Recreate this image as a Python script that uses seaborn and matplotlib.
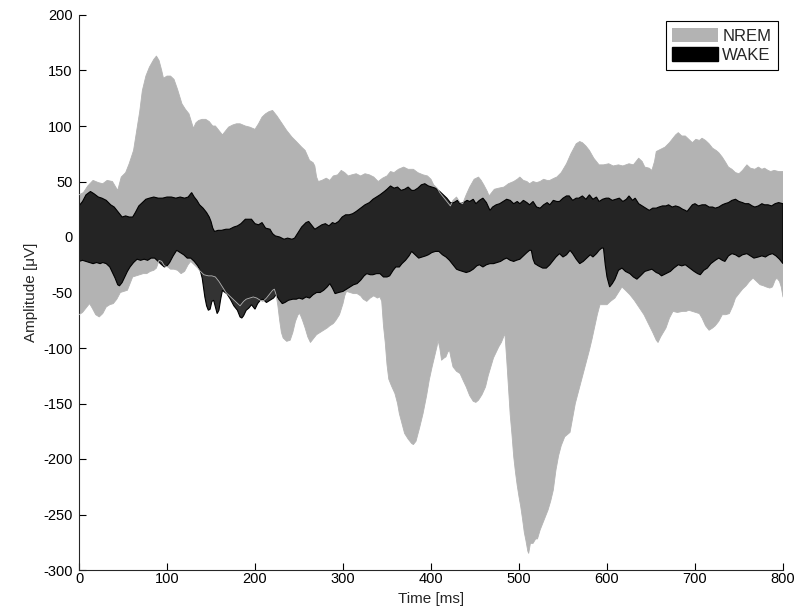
import numpy as np
import matplotlib
matplotlib.use("Agg")
import matplotlib.pyplot as plt
from matplotlib.patches import Patch
import seaborn as sns

# ---- data: (time ms, amplitude uV) ----
nrem_upper = [(0,38),(5,40),(10,46),(16,51),(22,49),(27,48),(32,51),(38,50),(44,42),(48,54),(53,58),(57,66),
(62,78),(65,93),(69,113),(72,132),(76,145),(80,153),(85,160),(88,163),(91,159),(94,150),(96,143),(100,145),
(104,145),(108,142),(112,133),(117,120),(121,115),(125,111),(130,98),(133,103),(136,105),(140,106),(144,106),
(148,104),(152,100),(155,100),(160,95),(163,92),(167,96),(170,99),(175,101),(179,102),(183,102),(186,101),
(189,100),(194,99),(200,97),(204,102),(208,108),(212,111),(216,113),(220,114),(225,109),(231,102),(236,96),
(242,90),(247,86),(253,81),(257,78),(262,69),(266,67),(268,64),(270,54),(272,50),(276,51),(281,53),(285,51),
(289,55),(294,56),(298,60),(302,58),(306,55),(310,56),(315,57),(320,55),(325,57),(330,56),(335,54),(340,50),
(345,53),(350,55),(354,59),(358,58),(363,61),(369,63),(374,61),(380,61),(385,58),(391,56),(396,55),(400,52),
(403,47),(407,44),(410,40),(414,36),(418,32),(422,28),(425,33),(429,36),(433,31),(436,30),(440,38),(444,45),
(449,52),(454,54),(457,51),(460,47),(464,41),(466,37),(469,40),(472,43),(477,44),(483,45),(488,48),(494,50),
(498,52),(501,54),(505,51),(509,50),(512,48),(516,50),(520,49),(524,50),(528,52),(532,51),(535,51),(540,53),
(543,54),(548,58),(554,66),(559,75),(565,84),(569,86),(572,85),(576,82),(580,78),(585,71),(591,65),(596,65),
(602,66),(607,64),(613,65),(618,64),(625,66),(630,65),(636,71),(640,68),(643,63),(648,62),(651,60),(654,68),
(656,77),(661,79),(666,81),(671,85),(675,89),(678,92),(681,94),(685,91),(689,91),(693,88),(697,85),(701,88),
(705,87),(708,89),(712,87),(716,84),(720,80),(724,78),(727,76),(731,72),(735,67),(738,63),(742,61),(746,58),
(750,57),(754,60),(759,65),(763,62),(768,61),(772,63),(776,61),(779,62),(783,60),(786,59),(790,60),(795,59),
(800,59)]

nrem_lower = [(0,-70),(4,-68),(8,-64),(12,-60),(15,-64),(19,-70),(23,-72),(27,-69),(31,-63),(35,-61),(39,-60),
(43,-56),(47,-50),(51,-49),(55,-48),(58,-42),(61,-36),(65,-35),(69,-34),(73,-33),(77,-33),(81,-31),(85,-30),
(88,-28),(91,-21),(94,-22),(97,-26),(101,-27),(104,-29),(108,-29),(112,-30),(116,-33),(120,-31),(124,-25),
(127,-22),(131,-25),(135,-28),(138,-31),(142,-34),(147,-35),(151,-35),(155,-36),(159,-40),(163,-45),(167,-50),
(171,-53),(175,-56),(179,-59),(183,-62),(187,-58),(190,-56),(194,-55),(198,-54),(202,-55),(206,-57),(209,-58),
(213,-55),(217,-51),(220,-48),(222,-47),(224,-52),(226,-62),(228,-75),(230,-86),(232,-91),(236,-94),(240,-93),
(243,-86),(246,-76),(249,-70),(251,-69),(254,-75),(257,-82),(260,-90),(263,-95),(266,-92),(270,-88),(274,-86),
(278,-84),(282,-82),(285,-80),(289,-78),(292,-75),(296,-70),(300,-60),(302,-53),(304,-49),(308,-50),(312,-51),
(316,-51),(320,-53),(323,-56),(327,-58),(331,-55),(335,-53),(339,-55),(342,-54),(344,-58),(346,-80),(348,-95),
(350,-115),(352,-128),(355,-134),(359,-141),(362,-150),(364,-159),(367,-168),(370,-177),(374,-182),(378,-186),
(380,-187),(383,-184),(387,-172),(391,-159),(395,-143),(398,-129),(401,-118),(404,-108),(407,-98),(408,-93),
(410,-100),(412,-111),(415,-109),(417,-108),(419,-104),(421,-102),(423,-110),(425,-117),(429,-121),(433,-123),
(437,-130),(440,-135),(444,-143),(448,-148),(451,-149),(454,-147),(458,-142),(462,-135),(465,-125),(468,-117),
(471,-109),(474,-104),(477,-99),(480,-95),(484,-87),(486,-110),(488,-135),(490,-160),(492,-178),(494,-198),
(496,-212),(498,-224),(500,-234),(502,-243),(504,-254),(506,-266),(508,-274),(510,-283),(511,-285),(513,-276),
(516,-276),(519,-272),(521,-272),(524,-264),(527,-258),(530,-252),(533,-246),(536,-238),(539,-228),(542,-210),
(545,-197),(548,-188),(552,-180),(555,-178),(558,-176),(561,-163),(564,-150),(567,-141),(569,-135),(572,-126),
(575,-117),(578,-108),(580,-102),(583,-92),(586,-81),(589,-70),(592,-61),(596,-61),(600,-61),(604,-58),(609,-55),
(613,-50),(617,-45),(621,-48),(626,-52),(631,-57),(637,-64),(642,-70),(647,-78),(652,-86),(656,-93),(658,-95),
(661,-90),(664,-86),(667,-82),(671,-73),(675,-67),(680,-68),(686,-67),(690,-67),(693,-66),(697,-67),(701,-68),
(705,-69),(708,-73),(712,-80),(716,-84),(720,-82),(723,-80),(727,-76),(731,-70),(735,-70),(739,-69),(743,-62),
(746,-55),(750,-51),(754,-47),(758,-44),(762,-40),(766,-37),(770,-40),(774,-43),(778,-44),(781,-45),(785,-46),
(788,-45),(791,-39),(793,-37),(796,-40),(798,-45),(800,-54)]

wake_upper = [(0,28),(4,32),(8,38),(13,41),(17,39),(22,36),(26,35),(31,33),(36,29),(40,27),(43,24),(46,21),
(49,18),(53,19),(57,18),(61,18),(64,22),(68,28),(72,31),(76,34),(80,35),(85,36),(90,35),(95,35),(100,36),
(105,36),(110,35),(115,36),(120,35),(124,36),(128,40),(131,36),(134,33),(137,29),(141,26),(145,22),(148,18),
(150,14),(152,8),(154,5),(158,6),(162,6),(167,7),(171,7),(176,9),(180,10),(184,12),(189,16),(193,16),(196,16),
(200,12),(204,11),(208,13),(212,8),(217,7),(220,3),(223,1),(228,0),(233,-2),(237,-1),(242,-2),(245,-1),(249,4),
(253,9),(258,13),(261,14),(265,10),(268,7),(272,9),(276,11),(280,12),(284,10),(288,13),(291,12),(295,14),
(299,18),(303,20),(307,20),(311,21),(315,23),(320,26),(325,29),(330,31),(334,34),(338,36),(342,38),(347,41),
(350,43),(354,46),(358,44),(362,45),(366,42),(370,43),(374,45),(378,42),(381,42),(385,44),(389,47),(393,48),
(397,46),(401,45),(405,44),(410,41),(414,38),(418,35),(422,31),(426,31),(430,33),(433,30),(437,31),(441,33),
(444,32),(448,34),(451,30),(455,33),(459,35),(463,31),(467,24),(470,27),(474,29),(478,30),(482,32),(486,34),
(490,33),(494,30),(498,32),(501,30),(505,33),(509,31),(512,29),(516,32),(520,27),(524,26),(528,29),(532,31),
(535,29),(539,33),(543,32),(546,32),(550,35),(554,37),(557,37),(561,33),(565,35),(568,35),(572,37),(576,34),
(580,38),(584,34),(588,36),(591,32),(595,34),(599,35),(602,35),(606,33),(610,34),(614,35),(618,32),(622,34),
(625,37),(629,33),(632,35),(636,30),(640,28),(644,26),(648,24),(652,26),(656,26),(659,27),(663,28),(667,28),
(670,29),(674,27),(678,28),(682,27),(686,25),(689,24),(691,23),(694,26),(697,29),(700,30),(704,28),(708,29),
(712,29),(716,27),(720,27),(723,26),(727,27),(731,29),(734,30),(738,31),(742,33),(746,34),(750,32),(754,31),
(757,30),(761,30),(765,28),(768,27),(772,28),(776,30),(779,29),(783,29),(787,28),(791,30),(795,31),(800,30)]

wake_lower = [(0,-22),(4,-21),(8,-22),(12,-23),(16,-24),(20,-23),(24,-24),(27,-23),(31,-24),(35,-27),(38,-32),
(41,-37),(44,-43),(46,-44),(49,-41),(52,-36),(55,-31),(58,-27),(62,-23),(66,-20),(70,-21),(74,-20),(78,-21),
(82,-19),(86,-19),(90,-22),(94,-25),(97,-27),(100,-26),(103,-23),(107,-17),(111,-12),(115,-14),(119,-16),
(123,-19),(127,-19),(131,-22),(135,-26),(138,-31),(140,-37),(143,-54),(145,-62),(147,-66),(149,-65),(151,-58),
(153,-57),(155,-63),(157,-69),(159,-66),(161,-56),(163,-48),(166,-50),(168,-51),(172,-56),(176,-62),(180,-66),
(183,-72),(185,-73),(187,-71),(190,-66),(193,-64),(196,-61),(198,-63),(200,-65),(203,-60),(206,-57),(209,-56),
(213,-59),(217,-57),(221,-55),(224,-52),(227,-56),(231,-60),(234,-59),(238,-57),(243,-56),(247,-56),(250,-55),
(254,-56),(258,-54),(262,-55),(266,-52),(270,-50),(274,-50),(278,-48),(282,-45),(285,-42),(288,-46),(291,-51),
(295,-50),(300,-49),(304,-47),(308,-45),(312,-43),(316,-42),(320,-39),(324,-35),(327,-33),(331,-34),(334,-34),
(338,-33),(342,-33),(346,-36),(350,-36),(353,-35),(357,-30),(360,-27),(364,-27),(367,-24),(371,-21),(375,-17),
(378,-13),(382,-16),(386,-19),(390,-18),(394,-17),(397,-16),(401,-14),(405,-13),(409,-13),(413,-16),(417,-18),
(421,-21),(425,-25),(429,-29),(432,-30),(436,-31),(440,-32),(444,-31),(448,-29),(452,-26),(455,-25),(459,-27),
(463,-25),(467,-24),(471,-24),(475,-23),(479,-22),(483,-20),(486,-19),(490,-21),(494,-22),(497,-21),(501,-20),
(505,-17),(509,-14),(512,-12),(514,-12),(516,-20),(518,-24),(522,-26),(527,-28),(531,-28),(535,-25),(539,-21),
(542,-18),(546,-15),(550,-18),(554,-16),(558,-12),(561,-15),(565,-20),(569,-24),(573,-22),(577,-19),(581,-16),
(584,-18),(588,-15),(591,-12),(594,-10),(596,-10),(598,-25),(600,-36),(603,-45),(606,-42),(609,-38),(613,-30),
(617,-28),(621,-31),(626,-33),(630,-36),(634,-38),(638,-35),(643,-31),(647,-30),(651,-29),(656,-32),(659,-33),
(662,-35),(667,-33),(672,-31),(676,-28),(681,-25),(685,-26),(689,-25),(694,-28),(699,-31),(703,-33),(706,-34),
(710,-30),(714,-28),(718,-24),(723,-21),(727,-19),(731,-21),(734,-22),(738,-17),(742,-15),(746,-16),(750,-18),
(754,-16),(759,-15),(763,-17),(767,-19),(772,-18),(776,-17),(780,-18),(784,-16),(788,-15),(792,-17),(796,-20),
(800,-24)]

series_labels = ["NREM", "WAKE"]
x_ticks = [0, 100, 200, 300, 400, 500, 600, 700, 800]
y_ticks = [-300, -250, -200, -150, -100, -50, 0, 50, 100, 150, 200]

# ---- style ----
sns.set_style("white")
plt.rcParams["font.family"] = ["Liberation Sans", "DejaVu Sans"]
plt.rcParams["axes.unicode_minus"] = False
plt.rcParams["xtick.direction"] = "in"
plt.rcParams["ytick.direction"] = "in"

NREM_COLOR = "#b3b3b3"

fig = plt.figure(figsize=(8.05, 6.12), dpi=100)
ax = fig.add_axes([79/805, 1-570/612, (783-79)/805, (570-15)/612])

def arr(pts):
    a = np.array(pts, dtype=float)
    return a[:, 0], a[:, 1]

nu_t, nu_v = arr(nrem_upper)
nl_t, nl_v = arr(nrem_lower)
wu_t, wu_v = arr(wake_upper)
wl_t, wl_v = arr(wake_lower)

# NREM band
ax.fill(np.r_[nu_t, nl_t[::-1]], np.r_[nu_v, nl_v[::-1]],
        facecolor=NREM_COLOR, edgecolor="none", zorder=1)
# WAKE band (semi-transparent black, black outline)
ax.fill(np.r_[wu_t, wl_t[::-1]], np.r_[wu_v, wl_v[::-1]],
        facecolor=(0, 0, 0, 0.8), edgecolor="black", linewidth=0.8, zorder=2)
# NREM outline on top (visible where it runs inside the WAKE band)
sns.lineplot(x=nu_t, y=nu_v, ax=ax, color=NREM_COLOR, linewidth=0.6,
             sort=False, estimator=None, zorder=3, legend=False)
sns.lineplot(x=nl_t, y=nl_v, ax=ax, color=NREM_COLOR, linewidth=0.6,
             sort=False, estimator=None, zorder=3, legend=False)

ax.set_xlim(0, 800)
ax.set_ylim(-300, 200)
ax.set_xticks(x_ticks)
ax.set_yticks(y_ticks)
ax.tick_params(axis="both", which="both", direction="in", length=5, width=0.8,
               labelsize=10.5, colors="black", bottom=True, left=True)
ax.tick_params(axis="x", pad=1.5)
ax.tick_params(axis="y", pad=4.5)
for s in ["top", "right"]:
    ax.spines[s].set_visible(False)
for s in ["left", "bottom"]:
    ax.spines[s].set_color("#262626")
    ax.spines[s].set_linewidth(0.8)

ax.set_xlabel("Time [ms]", fontsize=11, labelpad=4)
ax.set_ylabel("Amplitude [μV]", fontsize=11, labelpad=4)

handles = [Patch(facecolor=NREM_COLOR, edgecolor="none"),
           Patch(facecolor="black", edgecolor="black")]
leg = ax.legend(handles, series_labels, loc="upper right",
                bbox_to_anchor=(0.993, 0.989), borderaxespad=0,
                fontsize=12, handlelength=2.75, handleheight=0.95,
                handletextpad=0.25, borderpad=0.4, labelspacing=0.2,
                fancybox=False, frameon=True)
leg.get_frame().set_edgecolor("black")
leg.get_frame().set_linewidth(0.8)
leg.get_frame().set_facecolor("white")
leg.get_frame().set_alpha(1)

fig.savefig("out.png", dpi=100)
